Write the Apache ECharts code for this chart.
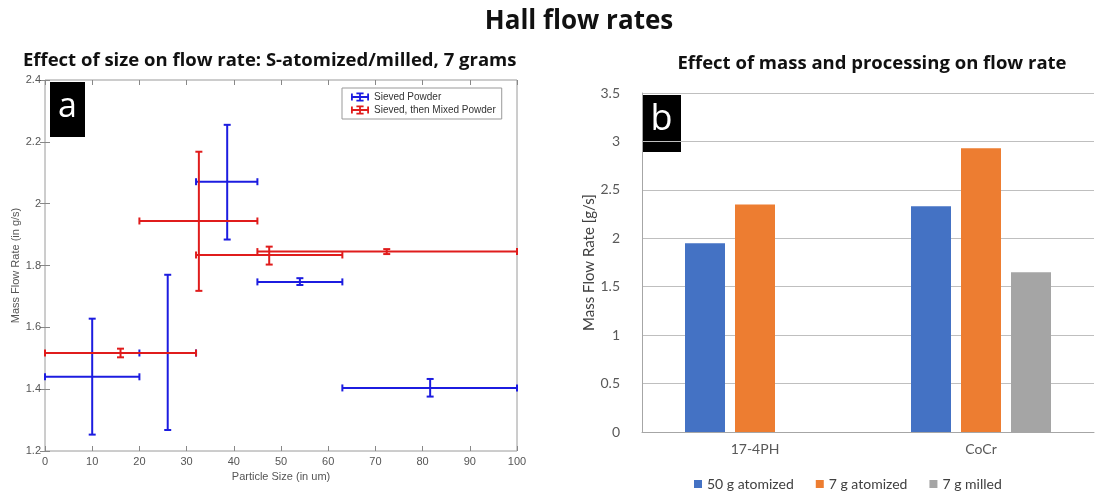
<!DOCTYPE html>
<html>
<head>
<meta charset="utf-8">
<script src="https://cdn.jsdelivr.net/npm/echarts@6/dist/echarts.min.js"></script>
<style>
  html, body { margin: 0; padding: 0; background: #fff; }
  #main { width: 1097px; height: 491px; }
</style>
</head>
<body>
<div id="main"></div>
<script>
// panel a: sieved powder (blue)
var sievedX = [10, 26, 38.6, 54, 81.6];
var sievedY = [1.44, 1.517, 2.071, 1.747, 1.404];
var sievedXLow = [0, 20, 32, 45, 63];
var sievedXHigh = [20, 32, 45, 63, 100];
var sievedYLow = [1.253, 1.268, 1.884, 1.737, 1.376];
var sievedYHigh = [1.628, 1.77, 2.255, 1.759, 1.433];

// panel a: sieved, then mixed powder (red)
var mixedX = [16, 32.6, 47.5, 72.4];
var mixedY = [1.517, 1.944, 1.834, 1.845];
var mixedXLow = [0, 20, 32, 45];
var mixedXHigh = [32, 45, 63, 100];
var mixedYLow = [1.503, 1.718, 1.803, 1.837];
var mixedYHigh = [1.531, 2.168, 1.861, 1.853];

// panel b
var materials = ['17-4PH', 'CoCr'];
var atomized50 = [1.95, 2.33];
var atomized7 = [2.35, 2.93];
var milled7 = [null, 1.65];

function rows(x, y, xl, xh, yl, yh) {
  return x.map(function (v, i) { return [v, y[i], xl[i], xh[i], yl[i], yh[i]]; });
}

function errorBars(color) {
  return function (params, api) {
    var x = api.value(0), y = api.value(1);
    var l = api.coord([api.value(2), y]);
    var r = api.coord([api.value(3), y]);
    var b = api.coord([x, api.value(4)]);
    var t = api.coord([x, api.value(5)]);
    var st = { stroke: color, lineWidth: 2 };
    var cap = 3.5;
    function seg(x1, y1, x2, y2) {
      return { type: 'line', shape: { x1: x1, y1: y1, x2: x2, y2: y2 }, style: st };
    }
    return {
      type: 'group',
      children: [
        seg(l[0], l[1], r[0], r[1]),
        seg(l[0], l[1] - cap, l[0], l[1] + cap),
        seg(r[0], r[1] - cap, r[0], r[1] + cap),
        seg(b[0], b[1], t[0], t[1]),
        seg(b[0] - cap, b[1], b[0] + cap, b[1]),
        seg(t[0] - cap, t[1], t[0] + cap, t[1])
      ]
    };
  };
}

var crossIcon = 'path://M0,4h20v2h-20Z M0,1h2v8h-2Z M18,1h2v8h-2Z M9,0h2v10h-2Z M6,0h8v2h-8Z M6,8h8v2h-8Z';

var myChart = echarts.init(document.getElementById('main'));
var axisTxt = { color: '#555', fontSize: 11, fontFamily: 'Liberation Sans' };
var excelTxt = { color: '#595959', fontSize: 14, fontFamily: 'Lato' };
var headFont = 'Open Sans';

var option = {
  animation: false,
  backgroundColor: '#fff',
  title: [
    { text: 'Hall flow rates', left: 574, top: 4, textAlign: 'center',
      textStyle: { fontSize: 26, fontWeight: 'bold', color: '#111', fontFamily: headFont } },
    { text: 'Effect of size on flow rate: S-atomized/milled, 7 grams', left: 18, top: 46,
      textStyle: { fontSize: 18.5, fontWeight: 'bold', color: '#111', fontFamily: headFont } },
    { text: 'Effect of mass and processing on flow rate', left: 867, top: 49, textAlign: 'center',
      textStyle: { fontSize: 18.5, fontWeight: 'bold', color: '#111', fontFamily: headFont } }
  ],
  grid: [
    { left: 45, top: 80, width: 472, height: 371, show: true, borderColor: '#9a9a9a', borderWidth: 1 },
    { left: 642, top: 93, width: 452, height: 339 }
  ],
  legend: [
    {
      data: ['Sieved Powder', 'Sieved, then Mixed Powder'],
      orient: 'vertical', left: 342, top: 88, padding: [4, 6, 4, 9],
      itemWidth: 18, itemHeight: 10, itemGap: 3,
      borderColor: '#999', borderWidth: 1, backgroundColor: '#fff',
      icon: crossIcon,
      textStyle: { fontSize: 10, color: '#333', fontFamily: 'Liberation Sans' }
    },
    {
      data: ['50 g atomized', '7 g atomized', '7 g milled'],
      left: 689, top: 472, icon: 'rect', itemWidth: 8, itemHeight: 8, itemGap: 22,
      textStyle: { fontSize: 14, color: '#404040', fontFamily: 'Lato' }
    }
  ],
  xAxis: [
    {
      gridIndex: 0, type: 'value', min: 0, max: 100, interval: 10,
      name: 'Particle Size (in um)', nameLocation: 'middle', nameGap: 20,
      nameTextStyle: axisTxt,
      axisLine: { show: false }, splitLine: { show: false },
      axisTick: { inside: true, length: 5, lineStyle: { color: '#888' } },
      axisLabel: Object.assign({ margin: 5 }, axisTxt)
    },
    {
      gridIndex: 1, type: 'category', data: materials,
      axisLine: { lineStyle: { color: '#a6a6a6' } }, axisTick: { show: false },
      axisLabel: { color: '#595959', fontSize: 14, fontFamily: 'Lato', margin: 10 }
    },
    {
      gridIndex: 0, type: 'value', min: 0, max: 100, interval: 10, position: 'top',
      axisLine: { show: false }, splitLine: { show: false }, axisLabel: { show: false },
      axisTick: { inside: true, length: 5, lineStyle: { color: '#888' } }
    }
  ],
  yAxis: [
    {
      gridIndex: 0, type: 'value', min: 1.2, max: 2.4, interval: 0.2,
      name: 'Mass Flow Rate (in g/s)', nameLocation: 'middle', nameGap: 22,
      nameTextStyle: axisTxt,
      axisLine: { show: false }, splitLine: { show: false },
      axisTick: { inside: true, length: 5, lineStyle: { color: '#888' } },
      axisLabel: Object.assign({ margin: 4 }, axisTxt)
    },
    {
      gridIndex: 1, type: 'value', min: 0, max: 3.5, interval: 0.5,
      name: 'Mass Flow Rate [g/s]', nameLocation: 'middle', nameGap: 37,
      nameTextStyle: { color: '#404040', fontSize: 15, fontFamily: 'Lato' },
      axisLine: { show: true, lineStyle: { color: '#a6a6a6' } }, axisTick: { show: false },
      splitLine: { lineStyle: { color: '#bfbfbf' } },
      axisLabel: Object.assign({ margin: 22 }, excelTxt)
    },
    {
      gridIndex: 0, type: 'value', min: 1.2, max: 2.4, interval: 0.2, position: 'right',
      axisLine: { show: false }, splitLine: { show: false }, axisLabel: { show: false },
      axisTick: { inside: true, length: 5, lineStyle: { color: '#888' } }
    }
  ],
  graphic: [
    { type: 'rect', shape: { x: 50, y: 82, width: 35, height: 55 }, style: { fill: '#000' } },
    { type: 'text', style: { x: 67.5, y: 107, text: 'a', fill: '#fff', font: '34px "Open Sans"',
      align: 'center', verticalAlign: 'middle' } },
    { type: 'rect', shape: { x: 642, y: 95, width: 39, height: 57 }, style: { fill: '#000' } },
    { type: 'text', style: { x: 661.5, y: 120, text: 'b', fill: '#fff', font: '36px "Open Sans"',
      align: 'center', verticalAlign: 'middle' } }
  ],
  series: [
    {
      name: 'Sieved Powder', type: 'custom', xAxisIndex: 0, yAxisIndex: 0,
      itemStyle: { color: '#1c1ce0' },
      renderItem: errorBars('#1c1ce0'),
      encode: { x: [0, 2, 3], y: [1, 4, 5] },
      data: rows(sievedX, sievedY, sievedXLow, sievedXHigh, sievedYLow, sievedYHigh)
    },
    {
      name: 'Sieved, then Mixed Powder', type: 'custom', xAxisIndex: 0, yAxisIndex: 0,
      itemStyle: { color: '#e01c1c' },
      renderItem: errorBars('#e01c1c'),
      encode: { x: [0, 2, 3], y: [1, 4, 5] },
      data: rows(mixedX, mixedY, mixedXLow, mixedXHigh, mixedYLow, mixedYHigh)
    },
    {
      name: '50 g atomized', type: 'bar', xAxisIndex: 1, yAxisIndex: 1,
      barWidth: 40, barGap: '25%', itemStyle: { color: '#4472c4' }, data: atomized50
    },
    {
      name: '7 g atomized', type: 'bar', xAxisIndex: 1, yAxisIndex: 1,
      barWidth: 40, barGap: '25%', itemStyle: { color: '#ed7d31' }, data: atomized7
    },
    {
      name: '7 g milled', type: 'bar', xAxisIndex: 1, yAxisIndex: 1,
      barWidth: 40, barGap: '25%', itemStyle: { color: '#a5a5a5' }, data: milled7
    }
  ]
};

myChart.setOption(option);
window.addEventListener('resize', function () { myChart.resize(); });
</script>
</body>
</html>
